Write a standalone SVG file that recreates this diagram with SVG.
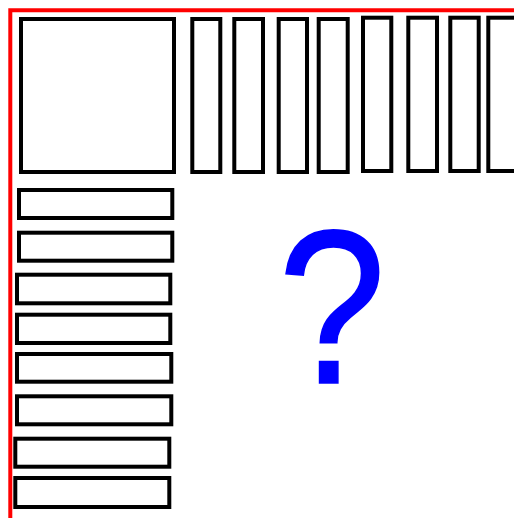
<svg xmlns="http://www.w3.org/2000/svg" width="514" height="519" viewBox="0 0 514 519">
<style>
.box{fill:#fff;stroke:#000;stroke-width:4}
.border{fill:none;stroke:#f00;stroke-width:4}
.q{font-family:"Liberation Sans",Arial,sans-serif;font-size:210px;fill:#00f}
</style>
<rect width="514" height="519" fill="#fff"/>
<g id="border"><path class="border" d="M10.3 518 V10.3 H514"/></g>
<g id="square"><rect class="box" x="21" y="19" width="153" height="153"/></g>
<g id="top-columns">
<rect id="c1" class="box" x="192.3" y="19" width="28" height="153"/>
<rect id="c2" class="box" x="234.3" y="19" width="28.7" height="153"/>
<rect id="c3" class="box" x="278.7" y="19" width="28.3" height="153"/>
<rect id="c4" class="box" x="318.7" y="19" width="29" height="153"/>
<rect id="c5" class="box" x="363" y="17.7" width="28.3" height="153.3"/>
<rect id="c6" class="box" x="408.3" y="17.7" width="28.7" height="153.3"/>
<rect id="c7" class="box" x="450.3" y="17.7" width="28.4" height="153.3"/>
<rect id="c8" class="box" x="488.3" y="17.7" width="28.4" height="153.3"/>
</g>
<g id="left-rows">
<rect id="r1" class="box" x="19" y="190" width="153.3" height="28"/>
<rect id="r2" class="box" x="19" y="232.7" width="153.3" height="28"/>
<rect id="r3" class="box" x="17" y="274.7" width="153.3" height="28.6"/>
<rect id="r4" class="box" x="17" y="314.7" width="153.3" height="28.3"/>
<rect id="r5" class="box" x="17" y="354" width="154.3" height="27.7"/>
<rect id="r6" class="box" x="17" y="396.3" width="154.3" height="28"/>
<rect id="r7" class="box" x="15.3" y="438.7" width="154" height="28"/>
<rect id="r8" class="box" x="15.3" y="478" width="154" height="29"/>
</g>
<g id="question"><text class="q" transform="translate(278,383) scale(0.924,1.043)" x="0" y="0" stroke="#00f" stroke-width="1.5">?</text></g>
</svg>
